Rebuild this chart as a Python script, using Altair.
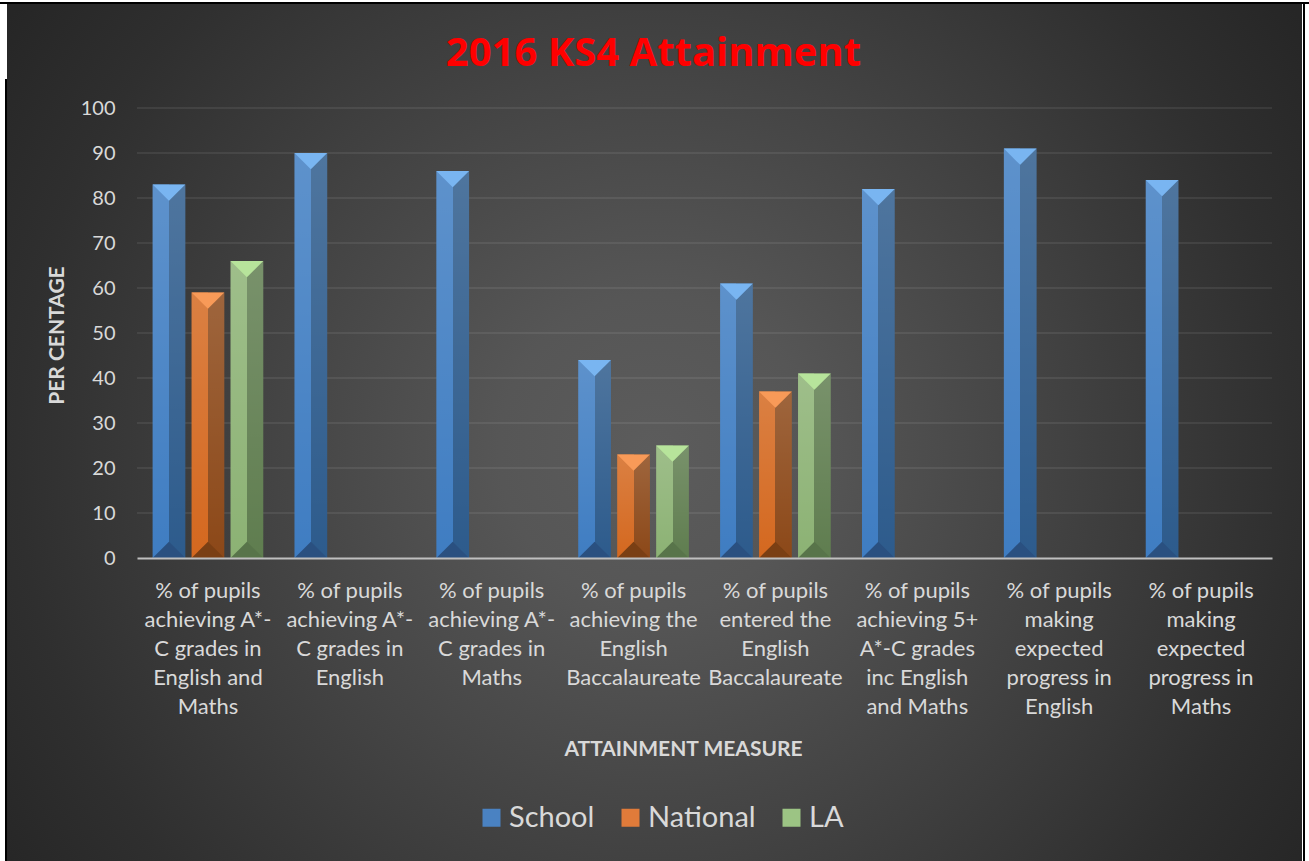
import altair as alt
import pandas as pd

# ---------------- data ----------------
categories = [
    "% of pupils\nachieving A*-\nC grades in\nEnglish and\nMaths",
    "% of pupils\nachieving A*-\nC grades in\nEnglish",
    "% of pupils\nachieving A*-\nC grades in\nMaths",
    "% of pupils\nachieving the\nEnglish\nBaccalaureate",
    "% of pupils\nentered the\nEnglish\nBaccalaureate",
    "% of pupils\nachieving 5+\nA*-C grades\ninc English\nand Maths",
    "% of pupils\nmaking\nexpected\nprogress in\nEnglish",
    "% of pupils\nmaking\nexpected\nprogress in\nMaths",
]
series = ["School", "National", "LA"]
school = [83, 90, 86, 44, 61, 82, 91, 84]
national = [59, None, None, 23, 37, None, None, None]
la = [66, None, None, 25, 41, None, None, None]
y_ticks = [0, 10, 20, 30, 40, 50, 60, 70, 80, 90, 100]
grid_values = [10, 20, 30, 40, 50, 60, 70, 80, 90, 100]

chart_title = "2016 KS4 Attainment"
x_title = "ATTAINMENT MEASURE"
y_title = "PER CENTAGE"

# ---------------- styles ----------------
face_left = {"School": "#3f7dc2", "National": "#d4681f", "LA": "#8cb274"}
face_right = {"School": "#2d5b8c", "National": "#8c4818", "LA": "#5f7d4f"}
cap_top = {"School": "#79b5f1", "National": "#f89a58", "LA": "#b7e49b"}
cap_bottom = {"School": "#2a5080", "National": "#7a3f14", "LA": "#58744a"}
legend_colors = ["#4a82c2", "#e07b3a", "#9cc484"]
text_color = "#d9d9d9"
FONT = "Lato"

rows = []
for s, vals in zip(series, [school, national, la]):
    for c, v in zip(categories, vals):
        if v is not None:
            rows.append({"category": c, "series": s, "value": v})
df = pd.DataFrame(rows)
grid_df = pd.DataFrame({"value": grid_values})
one = pd.DataFrame({"t": [chart_title]})

W, H = 1135, 450
OX, OY = 137, 108

x_axis = alt.Axis(
    labelExpr="split(datum.label, '\\n')", labelAngle=0, labelFont=FONT,
    labelFontSize=22, labelColor=text_color, labelLineHeight=29,
    labelBaseline="top", labelPadding=22, labelLimit=260, labelOverlap=False,
    ticks=False, domain=True, domainColor="#bfbfbf", domainWidth=2, grid=False,
    title=x_title, titleFont=FONT, titleFontSize=21, titleFontWeight="bold",
    titleColor=text_color, titleX=546, titleY=191, titleBaseline="middle",
    titleAlign="center", zindex=1,
)
y_axis = alt.Axis(
    values=y_ticks, labelFont=FONT, labelFontSize=20, labelColor=text_color,
    labelPadding=22, domain=False, ticks=False, grid=False,
    title=y_title, titleFont=FONT, titleFontSize=21, titleFontWeight="bold",
    titleColor=text_color, titleX=-80, titleY=227, titleAngle=270,
    titleBaseline="middle", titleAlign="center", zindex=1,
)

X = alt.X("category:N", sort=categories,
          scale=alt.Scale(domain=categories, paddingInner=0.22, paddingOuter=0.11),
          axis=x_axis)
XO = alt.XOffset("series:N", scale=alt.Scale(domain=series, paddingInner=0.16, paddingOuter=0))
Y = alt.Y("value:Q", scale=alt.Scale(domain=[0, 100], nice=False, zero=True), axis=y_axis)

# ---------------- background ----------------
bg = alt.Chart(one).mark_rect(
    fill=alt.Gradient(
        gradient="radial", x1=0.5, y1=0.5, r1=0, x2=0.5, y2=0.5, r2=0.6,
        stops=[
            alt.GradientStop(offset=0, color="#5c5c5c"),
            alt.GradientStop(offset=0.2, color="#565656"),
            alt.GradientStop(offset=0.49, color="#444444"),
            alt.GradientStop(offset=0.82, color="#2f2f2f"),
            alt.GradientStop(offset=1, color="#262626"),
        ],
    )
).encode(
    x=alt.value(7 - OX), x2=alt.value(1302 - OX),
    y=alt.value(450 - 647 - OY), y2=alt.value(450 + 647 - OY),
)

grid = alt.Chart(grid_df).mark_rule(color="#ffffff", opacity=0.1, strokeWidth=1.5).encode(
    y=Y, x=alt.value(0), x2=alt.value(W)
)

layers = [bg, grid]

TOP = "M-1,0L1,0L0,1Z"
BOT = "M-1,0L1,0L0,-1Z"
TRI_SIZE = 1070

for s in series:
    d = df[df["series"] == s]
    base = alt.Chart(d)
    faces = base.mark_bar(
        fill=alt.Gradient(
            gradient="linear", x1=0, y1=0, x2=1, y2=0,
            stops=[
                alt.GradientStop(offset=0, color=face_left[s]),
                alt.GradientStop(offset=0.5, color=face_left[s]),
                alt.GradientStop(offset=0.5, color=face_right[s]),
                alt.GradientStop(offset=1, color=face_right[s]),
            ],
        )
    ).encode(x=X, xOffset=XO, y=Y)
    sheen = base.mark_bar(
        fill=alt.Gradient(
            gradient="linear", x1=0, y1=0, x2=0, y2=1,
            stops=[
                alt.GradientStop(offset=0, color="rgba(255,255,255,0.16)"),
                alt.GradientStop(offset=1, color="rgba(255,255,255,0)"),
            ],
        )
    ).encode(x=X, xOffset=XO, y=Y)
    top = base.mark_point(shape=TOP, size=TRI_SIZE, filled=True, color=cap_top[s],
                          opacity=1, strokeWidth=0).encode(x=X, xOffset=XO, y=Y)
    bot = base.mark_point(shape=BOT, size=TRI_SIZE, filled=True, color=cap_bottom[s],
                          opacity=1, strokeWidth=0).encode(x=X, xOffset=XO, y=alt.datum(0))
    layers += [faces, sheen, top, bot]

legend_layer = alt.Chart(df).mark_square(size=0, opacity=0).encode(
    x=X, xOffset=XO, y=Y,
    color=alt.Color(
        "series:N",
        scale=alt.Scale(domain=series, range=legend_colors),
        legend=alt.Legend(
            title=None, orient="none", legendX=340, legendY=695,
            direction="horizontal", symbolType="square", symbolSize=324,
            symbolOpacity=1, symbolStrokeWidth=0, labelFont=FONT,
            labelFontSize=29, labelColor=text_color, columnPadding=21,
            labelOffset=3, zindex=1,
        ),
    ),
)
layers.append(legend_layer)

title_text = alt.Chart(one).mark_text(
    font="Open Sans", fontSize=40, fontWeight="bold", color="#ff0000",
    align="center", baseline="middle",
).encode(text="t:N", x=alt.value(653.5 - OX), y=alt.value(54 - OY))
layers.append(title_text)

# page-border decorations
white_top = alt.Chart(one).mark_rule(color="white", strokeWidth=2).encode(
    x=alt.value(-OX), x2=alt.value(1309 - OX), y=alt.value(1 - OY))
black_top = alt.Chart(one).mark_rule(color="black", strokeWidth=2).encode(
    x=alt.value(-OX), x2=alt.value(1309 - OX), y=alt.value(3 - OY))
black_left = alt.Chart(one).mark_rule(color="black", strokeWidth=2).encode(
    x=alt.value(6 - OX), y=alt.value(79 - OY), y2=alt.value(861 - OY))
black_right = alt.Chart(one).mark_rule(color="black", strokeWidth=2).encode(
    x=alt.value(1304 - OX), y=alt.value(2 - OY), y2=alt.value(861 - OY))
layers += [white_top, black_top, black_left, black_right]

chart = alt.layer(*layers).properties(
    width=W, height=H,
    padding={"left": OX, "top": OY, "right": 1309 - OX - W, "bottom": 861 - OY - H},
    autosize=alt.AutoSizeParams(type="none"),
).configure(background="white").configure_view(stroke=None)

chart.save("out.html", embed_options={"renderer": "svg", "actions": False})
